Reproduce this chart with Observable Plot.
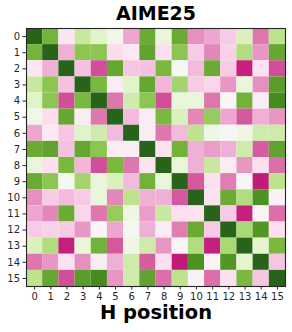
<!DOCTYPE html>
<html><head><meta charset="utf-8">
<script src="https://cdn.jsdelivr.net/npm/d3@7"></script>
<script src="https://cdn.jsdelivr.net/npm/@observablehq/plot@0.6"></script>
<style>html,body{margin:0;padding:0;background:#fff}svg{display:block}</style>
</head><body><div id="chart"></div>
<script>
const positions = d3.range(16);
const row0  = [1,.64,-.15,.33,.22,.07,-.45,.68,.15,.68,-.52,-.45,-.3,.25,-.6,.38];
const row1  = [.64,1,-.42,.55,.55,-.22,-.13,.72,-.2,.55,-.3,-.55,-.27,.42,-.5,.7];
const row2  = [-.15,-.42,1,-.35,-.69,.7,-.33,-.35,.62,.02,-.38,.68,-.3,-.79,-.18,-.69];
const row3  = [.33,.55,-.35,1,.62,-.1,.22,.7,-.4,.47,-.3,-.25,-.5,.15,-.52,.75];
const row4  = [.22,.55,-.69,.62,1,-.6,.3,.55,-.69,.15,.15,-.6,-.02,.65,-.1,.83];
const row5  = [.07,-.22,.7,-.1,-.6,1,-.38,-.1,.62,.25,-.55,.52,-.45,-.67,-.42,-.5];
const row6  = [-.45,-.13,-.33,.22,.3,-.38,1,-.1,-.6,-.38,.38,.1,.03,.1,.3,.3];
const row7  = [.68,.72,-.35,.7,.55,-.1,-.1,1,-.17,.65,-.42,-.48,-.42,.3,-.66,.72];
const row8  = [.15,-.2,.62,-.4,-.69,.62,-.6,-.17,1,.15,-.42,.33,-.1,-.5,-.2,-.62];
const row9  = [.68,.55,.02,.47,.15,.25,-.38,.65,.15,1,-.67,-.2,-.58,-.02,-.81,.38];
const row10 = [-.52,-.3,-.38,-.3,.15,-.55,.38,-.42,-.42,-.67,1,-.18,.68,.42,.8,-.05];
const row11 = [-.45,-.55,.68,-.25,-.6,.52,.1,-.48,.33,-.2,-.18,1,-.3,-.79,-.03,-.62];
const row12 = [-.3,-.27,-.3,-.5,-.02,-.45,.03,-.42,-.1,-.58,.68,-.3,1,.45,.78,-.2];
const row13 = [.25,.42,-.79,.15,.65,-.67,.1,.3,-.5,-.02,.42,-.79,.45,1,.2,.62];
const row14 = [-.6,-.5,-.18,-.52,-.1,-.42,.3,-.66,-.2,-.81,.8,-.03,.78,.2,1,-.33];
const row15 = [.38,.7,-.69,.75,.83,-.5,.3,.72,-.62,.38,-.05,-.62,-.2,.62,-.33,1];
const rows = [row0,row1,row2,row3,row4,row5,row6,row7,row8,row9,row10,row11,row12,row13,row14,row15];
const cells = rows.flatMap((r,i)=>r.map((v,j)=>({i,j,v})));
const colorStops = [-1,-.8,-.6,-.4,-.2,0,.2,.4,.6,.8,1];
const colorRange = ["#8e0152","#c51b7d","#de77ae","#f1b6da","#fde0ef","#f7f7f7","#e6f5d0","#b8e186","#7fbc41","#4d9221","#276419"];
const font = "DejaVu Sans";
const chart = Plot.plot({
  width:292, height:332,
  marginLeft:26, marginRight:7, marginTop:28, marginBottom:46,
  style:{fontFamily:font, background:"#fff", color:"#262626"},
  x:{type:"band", domain:positions, padding:0, round:false, axis:null},
  y:{type:"band", domain:positions, padding:0, round:false, axis:null},
  color:{type:"linear", domain:colorStops, range:colorRange, interpolate:"rgb"},
  marks:[
    Plot.cell(cells,{x:"j",y:"i",fill:"v"}),
    Plot.frame({strokeWidth:1.1}),
    Plot.axisX(positions,{anchor:"bottom",tickSize:3.5,tickPadding:3,fontSize:10,label:null,tickFormat:d=>d}),
    Plot.axisY(positions,{anchor:"left",tickSize:3.5,tickPadding:3,fontSize:10,label:null,tickFormat:d=>d}),
    Plot.text(["AIME25"],{frameAnchor:"top",dy:-22,lineAnchor:"top",fontSize:19,fontWeight:"bold",fill:"#000"}),
    Plot.text(["H position"],{frameAnchor:"bottom",dy:19,lineAnchor:"top",fontSize:19.5,fontWeight:"bold",fill:"#000"})
  ]
});
document.getElementById("chart").append(chart);
</script></body></html>
